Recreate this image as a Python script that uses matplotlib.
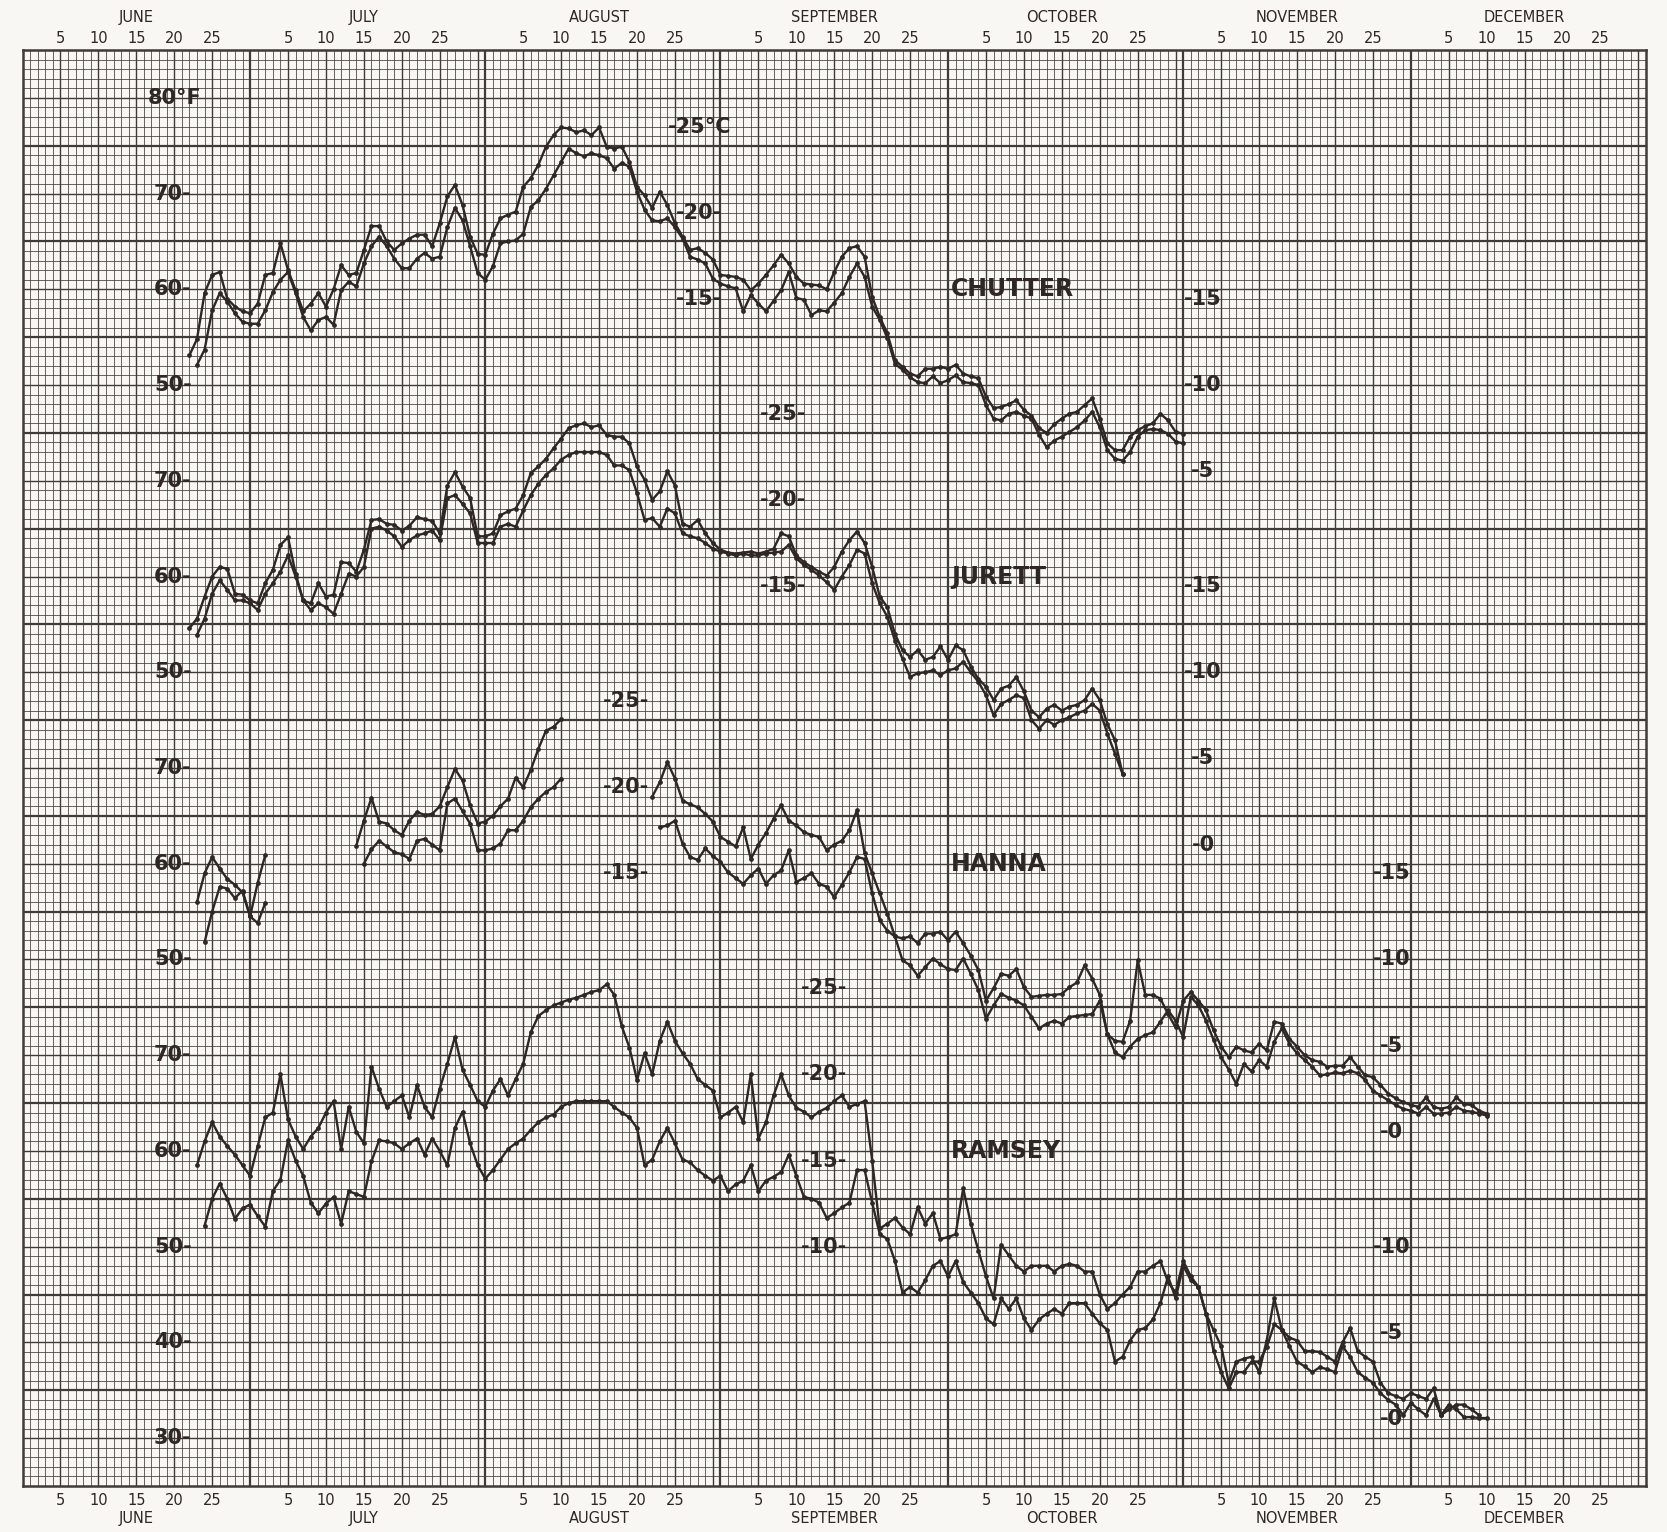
import numpy as np
import matplotlib.pyplot as plt

PAPER = "#f8f7f3"
INK = "#2e2724"
GRID = "#413b38"

# month layout: days since May 31, last day of each month
MONTHS = ["JUNE", "JULY", "AUGUST", "SEPTEMBER", "OCTOBER", "NOVEMBER", "DECEMBER"]
MONTH_START = [0, 30, 61, 92, 122, 153, 183]
MONTH_END = [30, 61, 92, 122, 153, 183, 214]
DAY_LABELS = [5, 10, 15, 20, 25]

# daily temperatures (deg F), two traces per station
CHUTTER_HI_START = 22
CHUTTER_HI = [53.1, 54.8, 59.6, 61.5, 61.8, 59.0, 58.2, 57.7, 57.5, 58.5, 61.5, 61.7, 64.8, 62.0, 59.9,
              57.7, 58.5, 59.6, 58.2, 60.0, 62.5, 61.5, 61.7, 64.1, 66.6, 66.6, 65.0, 64.1, 64.8, 65.3,
              65.7, 65.7, 64.5, 66.9, 69.7, 70.9, 68.8, 65.5, 63.7, 63.6, 65.8, 67.4, 67.8, 68.1, 70.7,
              71.6, 73.0, 74.9, 76.1, 76.9, 76.8, 76.4, 76.6, 76.1, 76.9, 74.9, 74.7, 74.9, 73.3, 70.7,
              69.8, 68.5, 70.2, 68.8, 66.9, 65.5, 64.1, 64.3, 63.8, 63.1, 61.5, 61.4, 61.3, 61.0, 59.9,
              60.6, 61.5, 62.5, 63.6, 62.7, 61.3, 60.6, 60.5, 60.4, 60.0, 61.8, 63.4, 64.3, 64.5, 63.4,
              59.2, 57.1, 55.4, 52.6, 51.9, 51.2, 50.9, 51.7, 51.7, 51.9, 51.7, 52.1, 51.2, 50.9, 50.7,
              48.8, 47.6, 47.7, 48.0, 48.4, 47.4, 46.8, 45.5, 45.0, 45.9, 46.5, 47.0, 47.2, 47.9, 48.6,
              46.5, 43.9, 43.2, 43.2, 44.6, 45.3, 45.7, 46.0, 47.0, 46.3, 45.1, 44.9]
CHUTTER_LO_START = 23
CHUTTER_LO = [52.1, 53.7, 57.8, 59.6, 58.7, 57.5, 56.6, 56.4, 56.4, 57.8, 59.7, 61.0, 61.8, 59.6, 57.1,
              55.7, 56.8, 57.1, 56.3, 59.9, 60.8, 60.3, 62.7, 64.5, 65.5, 64.5, 63.2, 62.2, 62.2, 63.2,
              63.8, 63.2, 63.4, 66.5, 68.5, 67.2, 64.5, 61.7, 61.0, 62.4, 64.8, 65.0, 65.1, 65.8, 68.6,
              69.3, 70.5, 71.9, 73.3, 74.7, 74.2, 73.9, 74.2, 74.0, 73.7, 72.6, 73.2, 72.8, 70.2, 68.3,
              67.2, 67.1, 67.4, 66.5, 65.3, 63.4, 63.1, 62.7, 61.1, 60.6, 60.3, 60.1, 57.7, 59.4, 58.5,
              57.7, 58.8, 59.9, 61.8, 59.1, 58.9, 57.3, 57.8, 57.7, 58.6, 59.6, 61.3, 62.7, 61.3, 58.2,
              56.8, 54.9, 52.2, 51.6, 50.8, 50.3, 50.2, 50.9, 50.2, 50.5, 51.0, 50.3, 50.2, 50.0, 47.9,
              46.5, 46.3, 47.0, 47.2, 46.8, 46.5, 44.8, 43.5, 44.2, 44.6, 45.1, 45.6, 46.3, 47.2, 45.6,
              43.2, 42.3, 42.1, 43.0, 44.6, 45.3, 45.4, 45.3, 44.9, 44.1, 43.9]

JURETT_HI_START = 22
JURETT_HI = [54.6, 55.6, 57.9, 60.0, 61.0, 60.8, 58.2, 58.1, 57.5, 57.2, 59.3, 60.7, 63.3, 64.1, 60.3,
             57.5, 57.2, 59.3, 57.9, 58.1, 61.5, 61.4, 60.5, 62.8, 65.9, 66.0, 65.5, 65.4, 64.8, 65.3,
             66.2, 66.0, 65.8, 64.5, 69.5, 70.9, 69.4, 68.2, 64.2, 64.2, 64.5, 66.4, 66.8, 67.1, 68.5,
             70.8, 71.5, 72.3, 73.4, 74.4, 75.5, 75.8, 76.0, 75.6, 75.8, 74.8, 74.6, 74.6, 73.9, 71.5,
             70.1, 68.0, 68.9, 71.0, 69.5, 65.5, 65.2, 65.9, 64.5, 63.5, 62.8, 62.5, 62.4, 62.5, 62.6,
             62.4, 62.6, 62.9, 64.5, 64.2, 62.2, 61.5, 61.0, 60.5, 60.1, 61.0, 62.6, 63.8, 64.7, 63.5,
             61.0, 57.9, 56.8, 54.0, 52.3, 51.6, 52.3, 51.3, 51.6, 52.7, 51.3, 52.8, 52.3, 50.6, 49.3,
             48.5, 47.1, 48.3, 48.6, 49.5, 48.0, 46.0, 45.3, 46.2, 46.6, 46.0, 46.4, 46.6, 47.1, 48.3,
             47.1, 44.6, 42.9, 39.4]
JURETT_LO_START = 23
JURETT_LO = [53.9, 55.6, 58.2, 59.6, 58.6, 57.5, 57.5, 57.2, 56.5, 58.2, 59.3, 60.5, 62.2, 60.0, 57.5,
             56.5, 57.2, 56.8, 56.1, 58.2, 60.3, 60.0, 61.0, 65.0, 65.2, 64.8, 64.2, 63.1, 63.8, 64.3,
             64.5, 64.8, 63.8, 68.2, 68.5, 67.6, 66.6, 63.5, 63.5, 63.5, 65.2, 65.5, 65.2, 66.9, 68.5,
             69.7, 70.6, 71.3, 72.2, 72.7, 73.0, 73.0, 73.0, 73.0, 72.7, 71.6, 71.6, 71.1, 68.7, 65.9,
             66.1, 65.2, 67.1, 66.6, 64.5, 64.2, 64.0, 63.5, 62.9, 62.6, 62.4, 62.2, 62.4, 62.2, 62.2,
             62.4, 62.5, 62.6, 63.3, 61.9, 61.2, 60.7, 60.1, 59.4, 58.6, 60.0, 61.2, 62.8, 62.4, 59.3,
             57.2, 55.8, 53.3, 51.4, 49.5, 49.9, 50.0, 50.2, 49.7, 50.2, 50.4, 51.1, 50.0, 49.0, 47.6,
             45.5, 46.7, 47.1, 47.6, 47.3, 45.0, 44.1, 45.0, 44.5, 45.0, 45.3, 45.7, 46.0, 46.7, 46.0,
             43.6, 41.5, 39.4]

# Hanna record has gaps: three pieces per trace
HANNA_HI_STARTS = [23, 44, 83]
HANNA_HI = [
    [56.0, 59.0, 60.7, 59.5, 58.4, 57.8, 57.0, 54.5, 58.0, 60.9],
    [61.9, 64.5, 66.9, 64.4, 64.2, 63.5, 63.0, 64.5, 65.4, 65.1, 65.2, 66.0, 68.0, 69.9, 68.7,
     66.1, 64.2, 64.4, 65.0, 66.0, 66.8, 69.0, 68.0, 69.8, 72.0, 73.9, 74.3, 75.1],
    [67.0, 68.5, 70.6, 68.9, 66.6, 66.2, 65.9, 65.2, 64.4, 62.8, 62.3, 61.8, 63.8, 60.5, 62.0,
     63.2, 64.7, 66.1, 64.5, 64.0, 63.3, 63.0, 62.8, 61.4, 62.0, 62.4, 63.5, 65.6, 61.1, 59.0,
     56.9, 54.8, 52.4, 52.2, 52.4, 51.7, 52.7, 52.7, 52.9, 52.0, 52.9, 51.7, 50.4, 48.9, 45.7,
     47.0, 48.5, 48.3, 49.0, 47.1, 46.1, 46.2, 46.3, 46.3, 46.4, 47.1, 47.6, 49.4, 48.0, 46.3,
     42.2, 41.5, 41.4, 43.6, 49.9, 46.3, 46.3, 45.9, 44.3, 42.9, 45.7, 46.6, 45.7, 44.7, 42.6,
     40.9, 39.8, 40.9, 40.5, 40.3, 41.2, 40.5, 43.5, 43.3, 41.7, 40.9, 40.0, 39.5, 39.3, 38.8,
     38.9, 38.9, 39.8, 38.8, 37.9, 37.7, 36.9, 36.0, 35.5, 35.1, 34.8, 34.6, 35.6, 34.6, 34.4,
     34.6, 35.6, 34.9, 34.8, 34.2, 33.9],
]
HANNA_LO_STARTS = [24, 45, 84]
HANNA_LO = [
    [51.8, 55.0, 57.6, 57.4, 56.4, 57.2, 54.5, 53.8, 55.9],
    [60.0, 61.5, 62.4, 61.8, 61.2, 61.0, 60.5, 62.4, 62.6, 62.0, 61.4, 66.3, 66.8, 65.5, 64.2,
     61.4, 61.4, 61.6, 62.1, 63.5, 63.5, 64.5, 65.9, 66.8, 67.5, 68.0, 68.9],
    [63.8, 64.0, 64.5, 62.1, 60.7, 60.4, 61.6, 60.8, 60.2, 59.1, 58.5, 57.9, 58.8, 59.5, 57.9,
     58.8, 59.3, 61.4, 58.1, 58.5, 59.0, 57.9, 57.6, 56.5, 57.8, 59.1, 60.7, 60.5, 56.9, 54.1,
     53.0, 52.4, 49.9, 49.4, 48.3, 49.2, 50.1, 49.5, 49.0, 48.9, 50.1, 48.5, 46.8, 43.8, 45.2,
     46.4, 46.0, 45.7, 45.2, 44.0, 42.8, 43.3, 43.6, 43.3, 44.0, 44.1, 44.2, 44.3, 45.7, 42.2,
     40.3, 39.8, 40.9, 41.7, 42.1, 42.4, 43.5, 44.7, 43.6, 41.9, 46.1, 45.2, 43.6, 41.6, 39.8,
     38.5, 37.0, 39.1, 38.3, 39.5, 38.8, 41.4, 42.8, 41.2, 40.2, 39.5, 38.8, 37.9, 38.0, 38.2,
     38.1, 38.4, 38.1, 37.4, 36.3, 35.8, 35.3, 34.8, 34.4, 34.2, 33.9, 34.6, 33.9, 33.9, 34.0,
     34.6, 34.2, 34.1, 33.9, 33.7],
]

RAMSEY_HI_START = 23
RAMSEY_HI = [58.5, 61.0, 63.0, 61.5, 60.5, 59.6, 58.5, 57.4, 60.5, 63.5, 64.0, 68.0, 63.3, 61.5, 60.2,
             61.5, 62.4, 64.0, 65.2, 60.2, 64.6, 62.0, 60.8, 68.8, 66.5, 64.6, 65.2, 65.8, 63.5, 66.9,
             64.6, 63.5, 66.5, 69.1, 71.9, 68.5, 66.9, 65.2, 64.6, 66.3, 67.5, 65.8, 67.5, 69.1, 72.4,
             74.1, 74.7, 75.2, 75.5, 75.8, 76.0, 76.3, 76.6, 76.8, 77.4, 76.3, 73.0, 70.8, 67.4, 70.2,
             68.0, 71.5, 73.5, 71.5, 70.2, 69.1, 67.5, 66.9, 66.3, 63.5, 64.0, 64.6, 63.0, 68.0, 61.3,
             63.0, 65.8, 68.0, 65.8, 64.5, 64.1, 63.5, 64.1, 64.5, 65.2, 65.8, 64.6, 64.9, 65.2, 59.0,
             51.9, 52.4, 53.0, 52.0, 51.3, 54.1, 52.4, 53.5, 50.8, 51.0, 51.3, 56.1, 52.4, 49.6, 46.9,
             44.6, 50.2, 49.1, 48.0, 47.4, 48.0, 48.0, 48.0, 47.4, 48.0, 48.2, 48.0, 47.4, 47.4, 45.0,
             43.5, 44.1, 45.0, 45.8, 47.4, 47.4, 48.0, 48.5, 46.3, 45.2, 48.5, 46.9, 45.8, 43.0, 41.3,
             39.6, 35.8, 38.0, 38.3, 38.5, 36.9, 40.2, 44.6, 41.3, 40.5, 40.2, 39.1, 39.1, 39.0, 38.5,
             38.0, 40.0, 41.5, 39.1, 38.5, 38.0, 35.8, 34.7, 34.4, 34.1, 34.7, 34.4, 34.1, 35.2, 32.4,
             33.0, 33.5, 33.5, 33.0, 32.4]
RAMSEY_LO_START = 24
RAMSEY_LO = [52.2, 55.0, 56.6, 55.0, 52.9, 54.0, 54.4, 53.2, 52.1, 55.8, 57.0, 61.1, 59.0, 57.4, 54.6,
             53.5, 54.5, 55.2, 52.4, 55.8, 55.5, 55.2, 58.9, 61.1, 61.0, 60.8, 60.2, 60.8, 61.3, 59.6,
             61.3, 60.0, 58.5, 62.4, 64.1, 60.8, 58.5, 57.1, 58.0, 59.1, 60.2, 60.8, 61.3, 62.2, 63.0,
             63.5, 63.8, 64.6, 65.0, 65.2, 65.2, 65.2, 65.2, 65.2, 64.6, 64.0, 63.5, 62.4, 58.5, 59.1,
             61.0, 62.4, 60.8, 59.1, 58.8, 58.0, 57.4, 56.9, 57.4, 55.8, 56.5, 56.9, 58.5, 55.8, 56.9,
             57.3, 57.8, 59.6, 57.4, 55.2, 55.0, 54.6, 53.0, 53.5, 54.1, 54.6, 58.0, 58.0, 54.6, 51.3,
             50.8, 48.5, 45.2, 45.8, 45.2, 46.5, 48.0, 48.5, 46.9, 48.5, 46.3, 45.2, 44.1, 42.5, 41.9,
             44.6, 43.5, 44.6, 42.5, 41.3, 42.4, 43.0, 43.5, 43.0, 44.1, 44.1, 44.1, 43.0, 42.0, 41.3,
             38.0, 38.5, 40.2, 41.3, 41.5, 42.4, 44.1, 46.9, 44.6, 48.0, 46.5, 45.8, 43.0, 39.1, 36.9,
             35.2, 36.9, 36.9, 38.0, 38.0, 39.5, 41.9, 41.3, 39.6, 38.0, 37.5, 36.9, 37.4, 37.2, 36.9,
             39.6, 38.5, 36.9, 36.3, 35.8, 34.7, 34.0, 33.5, 32.4, 33.7, 33.0, 32.4, 34.1, 32.4, 33.5,
             33.0, 32.2, 32.2, 32.1, 32.1]

# panel layout: top of each panel in deg F (each panel is 150 grid cells tall)
PANEL_TOP = [85, 115, 145, 175]
F_LABELS = [[70, 60, 50], [70, 60, 50], [70, 60, 50], [70, 60, 50, 40, 30]]
NAMES = ["CHUTTER", "JURETT", "HANNA", "RAMSEY"]
C_MID_X = [89.2, 100.3, 79.5, 105.6]
C_MID = [[25, 20, 15], [25, 20, 15], [25, 20, 15], [25, 20, 15, 10]]
C_RIGHT_X = [155.6, 155.6, 180.5, 180.5]
C_RIGHT = [[15, 10, 5], [15, 10, 5, 0], [15, 10, 5, 0], [10, 5, 0]]


def c2f(c):
    return c * 9 / 5 + 32


def daily(start, vals):
    return np.arange(start, start + len(vals)), np.array(vals)


fig = plt.figure(figsize=(16.67, 15.32), dpi=100)
fig.patch.set_facecolor(PAPER)
rect = [0.0135, 0.0300, 0.9739, 0.9374]

# ---- graph paper ----
bg = fig.add_axes(rect)
bg.set_facecolor(PAPER)
bg.set_xlim(0, 214)
bg.set_ylim(150, 0)
bg.set_xticks([])
bg.set_yticks([])
for s in bg.spines.values():
    s.set_linewidth(1.8)
    s.set_color(GRID)

fine_x, mid_x = [], []
for m0, m1 in zip(MONTH_START, MONTH_END):
    for d in range(1, m1 - m0):
        (mid_x if d % 5 == 0 else fine_x).append(m0 + d)
bg.vlines(fine_x, 0, 150, color=GRID, lw=0.55)
bg.vlines(mid_x, 0, 150, color=GRID, lw=1.0)
bg.vlines(MONTH_END[:-1], 0, 150, color=GRID, lw=1.6)

rows = np.arange(1, 150)
bg.hlines(rows[rows % 5 != 0], 0, 214, color=GRID, lw=0.55)
bg.hlines(rows[(rows % 5 == 0) & (rows % 10 != 0)], 0, 214, color=GRID, lw=1.0)
bg.hlines(rows[rows % 10 == 0], 0, 214, color=GRID, lw=1.6)

# month / day labels top and bottom
tr = bg.get_xaxis_transform()
lab_font = dict(family=["Liberation Sans Narrow", "DejaVu Sans"], color=INK)
for name, m0 in zip(MONTHS, MONTH_START):
    bg.text(m0 + 15, 1.0225, name, transform=tr, ha="center", va="center", fontsize=10.5, **lab_font)
    bg.text(m0 + 15, -0.0225, name, transform=tr, ha="center", va="center", fontsize=10.5, **lab_font)
    for d in DAY_LABELS:
        bg.text(m0 + d, 1.0080, str(d), transform=tr, ha="center", va="center", fontsize=10.5, **lab_font)
        bg.text(m0 + d, -0.0100, str(d), transform=tr, ha="center", va="center", fontsize=10.5, **lab_font)

# ---- station panels ----
series = [
    [daily(CHUTTER_HI_START, CHUTTER_HI), daily(CHUTTER_LO_START, CHUTTER_LO)],
    [daily(JURETT_HI_START, JURETT_HI), daily(JURETT_LO_START, JURETT_LO)],
    [daily(s, v) for s, v in zip(HANNA_HI_STARTS, HANNA_HI)]
    + [daily(s, v) for s, v in zip(HANNA_LO_STARTS, HANNA_LO)],
    [daily(RAMSEY_HI_START, RAMSEY_HI), daily(RAMSEY_LO_START, RAMSEY_LO)],
]

big = dict(fontsize=15, fontweight="bold", color=INK, va="center")
for k in range(4):
    ax = fig.add_axes(rect, label=NAMES[k])
    ax.set_xlim(0, 214)
    ax.set_ylim(PANEL_TOP[k] - 150, PANEL_TOP[k])
    ax.axis("off")
    for x, y in series[k]:
        ax.plot(x, y, color=INK, lw=1.7, marker="o", ms=2.4, solid_joinstyle="round")

    for f in F_LABELS[k]:
        ax.text(22.3, f, f"{f}-", ha="right", **big)
    if k == 0:
        ax.text(23.6, 80, "80°F", ha="right", **big)

    for c in C_MID[k]:
        txt = "-25°C" if (k == 0 and c == 25) else f"-{c}-"
        ax.text(C_MID_X[k], c2f(c), txt, ha="center", **big)
    for c in C_RIGHT[k]:
        ax.text(C_RIGHT_X[k], c2f(c), f"-{c}", ha="center", **big)

    ax.text(122.4, 60, NAMES[k], ha="left", fontsize=17, fontweight="bold", color=INK, va="center")

fig.savefig("out.png", dpi=100, facecolor=PAPER)
